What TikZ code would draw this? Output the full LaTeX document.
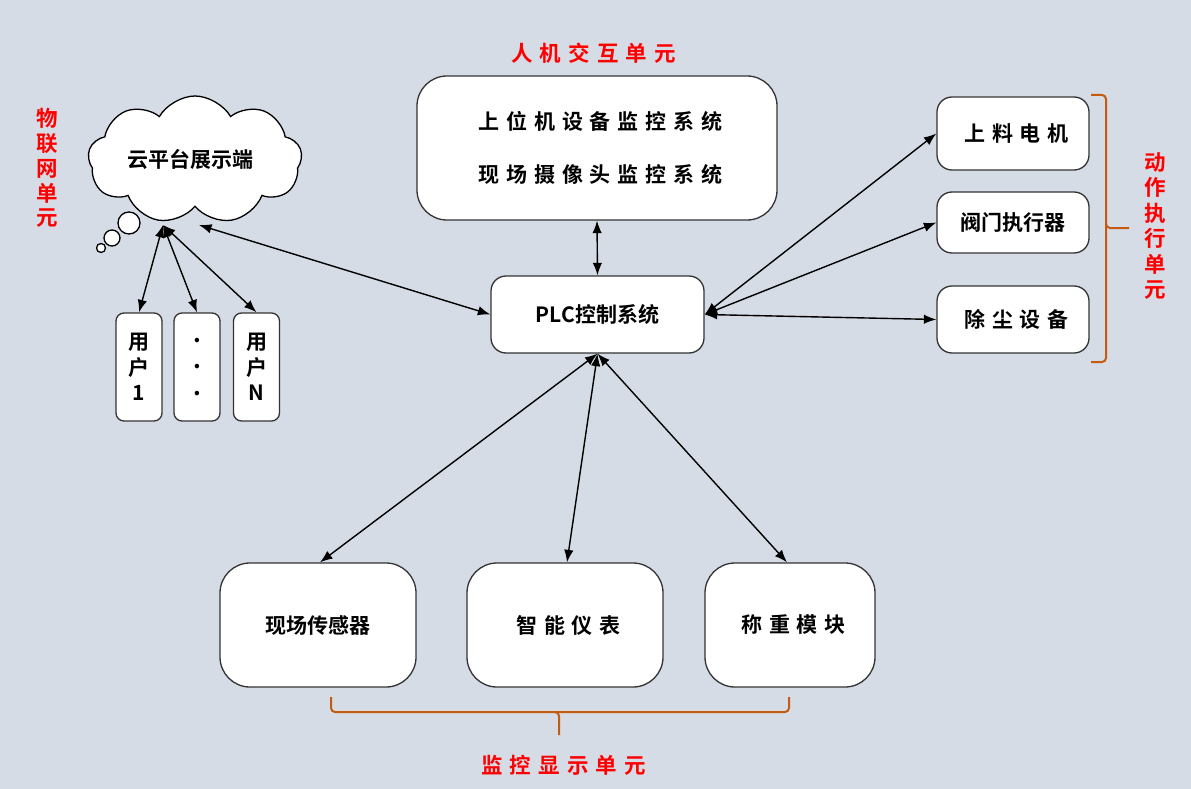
\documentclass[tikz,border=0pt]{standalone}
\usepackage{fontspec}
\usetikzlibrary{shapes.symbols,arrows.meta,calc}
\newfontfamily\cjkb{Noto Sans CJK SC Bold}
\newfontfamily\cjks{Noto Sans CJK SC Bold}[LetterSpace=33]
\newcommand{\spaced}[1]{{\cjks #1}\kern-7pt}
\definecolor{bgc}{HTML}{D6DCE5}
\definecolor{bracec}{HTML}{C55A11}
\definecolor{edgec}{HTML}{333333}
\begin{document}
\begin{tikzpicture}[x=1pt,y=-1pt,
  box/.style={draw=edgec, fill=white, line width=1.3pt, rounded corners=15pt, inner sep=0pt,
    font=\cjkb\fontsize{21}{24}\selectfont, align=center},
  bigbox/.style={box, rounded corners=30pt},
  ubox/.style={box, rounded corners=8pt, minimum width=46pt, minimum height=108pt, font=\cjkb\fontsize{21}{25.5}\selectfont},
  arr/.style={{Latex[length=12.5pt,width=9.5pt]}-{Latex[length=12.5pt,width=9.5pt]}, line width=1.4pt, black},
  redlbl/.style={text=red, font=\cjkb\fontsize{21.5}{24.8}\selectfont, align=center, inner sep=0pt},
  bracel/.style={draw=bracec, line width=2pt, rounded corners=4pt}
]
\fill[bgc] (0,0) rectangle (1191,789);
\useasboundingbox (0,0) rectangle (1191,789);

% labels
\node[redlbl] (lhmi) at (590,53) {\spaced{人机交互单元}};
\node[redlbl] (lmon) at (560,765) {\spaced{监控显示单元}};
\node[redlbl] (liot) at (47,168) {物\\联\\网\\单\\元};
\node[redlbl, font=\cjkb\fontsize{21.5}{25.4}\selectfont] (lact) at (1155,226) {动\\作\\执\\行\\单\\元};

% boxes
\node[bigbox, minimum width=360pt, minimum height=144pt, font=\cjkb\fontsize{21}{53}\selectfont] (hmi) at (597,148) {\spaced{上位机设备监控系统}\\\spaced{现场摄像头监控系统}};
\node[box, minimum width=213pt, minimum height=77pt] (plc) at (597.5,314.5) {PLC控制系统};

\node[box, minimum width=152pt, minimum height=73pt] (m1) at (1013,133.5) {\spaced{上料电机}};
\node[box, minimum width=152pt, minimum height=61pt] (m2) at (1013,222.5) {阀门执行器};
\node[box, minimum width=152pt, minimum height=67pt] (m3) at (1013,319.5) {\spaced{除尘设备}};

\node[bigbox, minimum width=196pt, minimum height=124pt] (s1) at (318,625) {现场传感器};
\node[bigbox, minimum width=196pt, minimum height=124pt] (s2) at (565,625) {\spaced{智能仪表}};
\node[bigbox, minimum width=170pt, minimum height=124pt] (s3) at (790,625) {\spaced{称重模块}};

\node[ubox] (u1) at (139,367) {用\\户\\1};
\node[ubox, font=\cjkb\fontsize{24}{26.5}\selectfont] (u2) at (197,367) {.\\.\\.};
\node[ubox] (u3) at (256.5,367) {用\\户\\N};

% cloud
\node[cloud, cloud puffs=9, cloud puff arc=120, cloud ignores aspect, draw=black, fill=white, line width=1.3pt,
  minimum width=214pt, minimum height=128pt] (cloud) at (195,160) {};
\node[font=\cjkb\fontsize{21}{24}\selectfont] (ctext) at (190,159) {云平台展示端};
\node[circle, draw=black, fill=white, line width=1.3pt, minimum size=22pt, inner sep=0pt] (b1) at (129,223) {};
\node[circle, draw=black, fill=white, line width=1.3pt, minimum size=16pt, inner sep=0pt] (b2) at (112,238) {};
\node[circle, draw=black, fill=white, line width=1.3pt, minimum size=9pt, inner sep=0pt] (b3) at (101,248) {};

\coordinate (cb) at (163,225);
\coordinate (cb2) at (199,225);

% connectors
\draw[arr] (cb) -- (u1.north);
\draw[arr] (cb) -- (u2.north);
\draw[arr] (cb) -- (u3.north);
\draw[arr] (cb2) -- (plc.west);
\draw[arr] (hmi.south) -- (plc.north);
\draw[arr] (plc.east) -- (m1.west);
\draw[arr] (plc.east) -- (m2.west);
\draw[arr] (plc.east) -- (m3.west);
\draw[arr] (plc.south) -- ($(s1.north)+(2,0)$);
\draw[arr] (plc.south) -- ($(s2.north)+(2,0)$);
\draw[arr] (plc.south) -- ($(s3.north)+(-3,0)$);

% braces
\coordinate (rb1) at (1091,95);
\coordinate (rb2) at (1091,362);
\coordinate (rtip) at (1129,228);
\draw[bracel] (rb1) -- (1106,95) -- (1106,228) -- (rtip);
\draw[bracel] (1106,224) -- (1106,362) -- (rb2);
\coordinate (bb1) at (331,697);
\coordinate (bb2) at (789,697);
\coordinate (btip) at (559,735);
\draw[bracel] (bb1) -- (331,712) -- (559,712) -- (btip);
\draw[bracel] (555,712) -- (789,712) -- (bb2);
\end{tikzpicture}
\end{document}
